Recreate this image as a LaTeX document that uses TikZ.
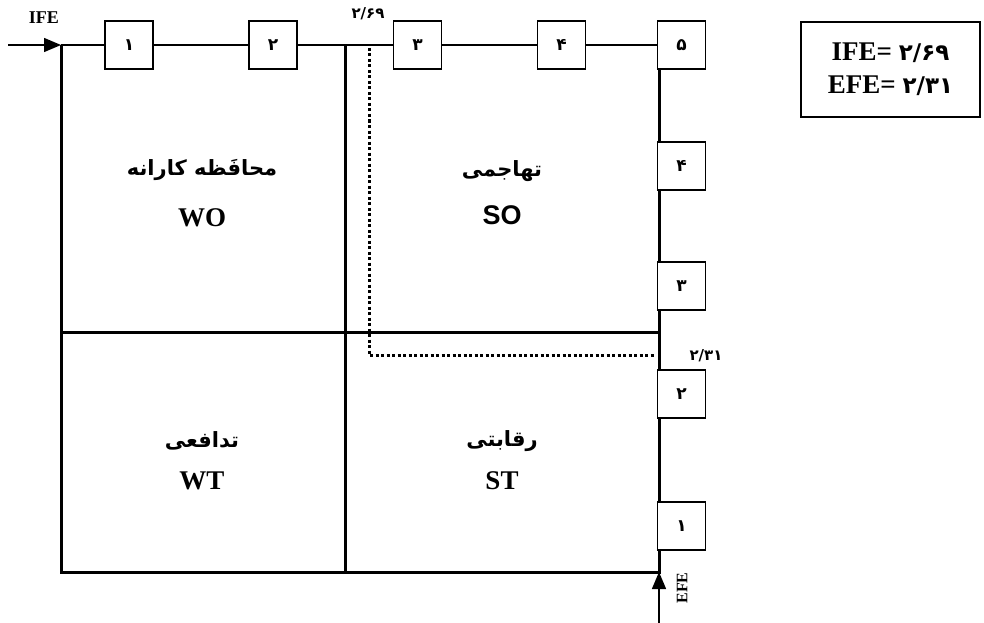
\documentclass[tikz,border=0pt]{standalone}
\usepackage{fontspec}
\setmainfont{Liberation Serif}
\newfontfamily\arabicfont[Script=Arabic]{DejaVu Sans}
\newfontfamily\sansb{Liberation Sans}
\TeXXeTstate=1
\usetikzlibrary{arrows.meta}
\begin{document}
\begin{tikzpicture}[x=1pt,y=-1pt,
  numbox/.style={draw,line width=1.6pt,fill=white,minimum width=48pt,minimum height=48pt,inner sep=0pt,font=\arabicfont\bfseries\fontsize{17}{19}\selectfont},
  frame/.style={line width=3pt},
  topline/.style={line width=2.2pt},
  fa/.style={font=\arabicfont\bfseries\fontsize{21}{24}\selectfont},
  en/.style={font=\bfseries\fontsize{27}{30}\selectfont},
  small/.style={font=\bfseries\fontsize{18}{20}\selectfont},
  dots/.style={line width=3pt,dash pattern=on 3pt off 2.5pt}
]
\useasboundingbox (0,0) rectangle (984,623);
% corners
\coordinate (TL) at (61,45);
\coordinate (TR) at (659,45);
\coordinate (BL) at (61,572);
\coordinate (BR) at (659,572);
\coordinate (ML) at (61,332);
\coordinate (MR) at (659,332);
\coordinate (DT) at (345,45);
\coordinate (DB) at (345,572);
\coordinate (VT) at (369,48);
\coordinate (VC) at (369,355);
\coordinate (VE) at (655,355);
\coordinate (IFEs) at (8,45);
\coordinate (EFEs) at (659,623);
% frame lines
\draw[topline] (TL) -- (TR);
\draw[frame] (TL) -- (BL) -- (BR) -- (TR);
\draw[frame] (ML) -- (MR);
\draw[frame] (DT) -- (DB);
\draw[dots] (VT) -- (VC) -- (VE);
% top boxes
\node[numbox] (t1) at (129,45) {۱};
\node[numbox] (t2) at (273,45) {۲};
\node[numbox] (t3) at (417.5,45) {۳};
\node[numbox] (t4) at (561.5,45) {۴};
\node[numbox] (t5) at (681.5,45) {۵};
% right boxes
\node[numbox] (r4) at (681.5,166) {۴};
\node[numbox] (r3) at (681.5,286) {۳};
\node[numbox] (r2) at (681.5,394) {۲};
\node[numbox] (r1) at (681.5,526) {۱};
% arrows
\draw[line width=1.4pt,-{Triangle[length=17pt,width=14pt]}] (IFEs) -- (TL);
\draw[line width=1.4pt,-{Triangle[length=17pt,width=14pt]}] (EFEs) -- (BR);
\node[small] (ifel) at (44,18) {IFE};
\node[small,rotate=90,font=\bfseries\fontsize{16}{18}\selectfont] (efel) at (682,588) {EFE};
\node[font=\arabicfont\bfseries\fontsize{15}{17}\selectfont] (v1) at (368,14) {۲/۶۹};
\node[font=\arabicfont\bfseries\fontsize{15}{17}\selectfont] (v2) at (706,356) {۲/۳۱};
% quadrant labels
\node[fa] (wofa) at (202,170) {\beginR محافَظه کارانه\endR};
\node[en] (wo) at (202,218) {WO};
\node[fa] (sofa) at (502,171) {\beginR تهاجمی\endR};
\node[font=\sansb\bfseries\fontsize{27}{30}\selectfont] (so) at (502,215) {SO};
\node[fa] (wtfa) at (202,441) {\beginR تدافعی\endR};
\node[en] (wt) at (202,481) {WT};
\node[fa] (stfa) at (502,441) {\beginR رقابتی\endR};
\node[en] (st) at (502,481) {ST};
% legend
\node[draw,line width=1.4pt,minimum width=179pt,minimum height=95pt,align=center,font=\bfseries\fontsize{27}{33}\selectfont] (leg) at (890.5,69.5)
  {IFE= {\arabicfont\fontsize{23}{26}\selectfont ۲/۶۹}\\EFE= {\arabicfont\fontsize{23}{26}\selectfont ۲/۳۱}};
\end{tikzpicture}
\end{document}
